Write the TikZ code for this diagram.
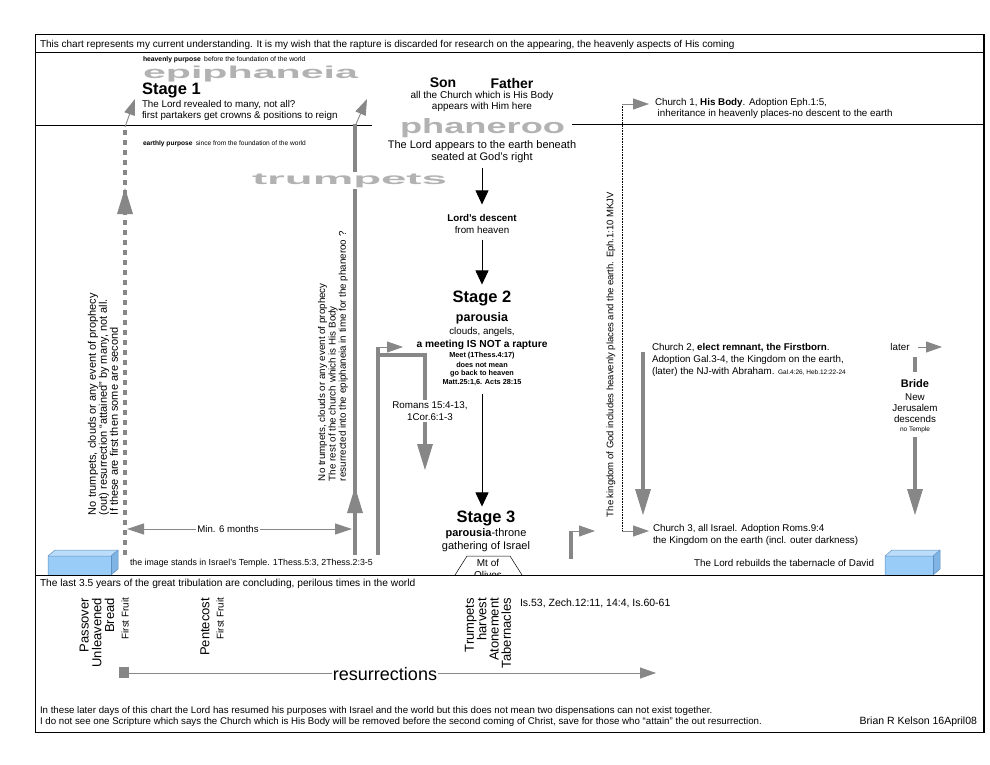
\documentclass[tikz,border=0pt]{standalone}
\usepackage{fontspec}
\setmainfont{Liberation Sans}
\usepackage{graphicx}
\usetikzlibrary{arrows.meta}
\definecolor{lg}{HTML}{878787}
\definecolor{bigt}{HTML}{B2B2B2}
\definecolor{boxf}{HTML}{99CCF7}
\definecolor{boxt}{HTML}{BBDDFB}
\definecolor{boxs}{HTML}{80B4E4}
\definecolor{boxe}{HTML}{5F90C2}
\newcommand{\fsz}[2]{\fontsize{#1}{#2}\selectfont}
\newcommand{\bigword}[3]{\textcolor{bigt}{\resizebox{#1pt}{#2pt}{\bfseries #3}}}
\begin{document}
\begin{tikzpicture}[x=1pt,y=-1pt,
  t/.style={inner sep=0pt, outer sep=0pt},
  n9/.style={t, font=\fsz{9.8}{11.5}},
  gl/.style={draw=lg, line width=4.5pt},
  blkarr/.style={draw=black, line width=0.7pt, -{Triangle[length=14pt,width=13pt]}},
  garr/.style={draw=lg, line width=0.9pt, -{Triangle[length=16pt,width=11pt]}},
  uptri/.pic={\fill[lg] (-8,13) -- (0,-13) -- (8,13) -- cycle;},
  downtri/.pic={\fill[lg] (-8,-13) -- (0,13) -- (8,-13) -- cycle;}
]
\useasboundingbox (0,0) rectangle (990,765);
\fill[white] (0,0) rectangle (990,765);

% frame
\draw[line width=1pt] (35,35) rectangle (984,732);
\draw[line width=2pt] (984,35) -- (984,733);
\draw[line width=1pt] (35,53) -- (984,53);
\draw[line width=0.8pt] (35,125) -- (372,125);
\draw[line width=0.8pt] (572,124) -- (984,124);

% header
\node[t,anchor=west,font=\fsz{10}{11}] (hdr) at (40,44.5) {This chart represents my current understanding. It is my wish that the rapture is discarded for research on the appearing, the heavenly aspects of His coming};

% ---------- thick grey lines ----------
% left dashed
\draw[lg, line width=4pt, dash pattern=on 5pt off 5pt] (125,555) -- (125,127);
\pic at (125,201) {uptri};
\draw[garr] (125,127) -- (135,99);
% middle solid
\draw[gl] (355,555) -- (355,124);
\pic at (355,500) {uptri};
\draw[garr] (356,124) -- (367,99);
% stage 2 flag and bracket
\draw[gl] (378,555) -- (378,347);
\draw[garr] (378,347) -- (403,347);
\draw[gl, line join=miter] (375.75,355) -- (425,355) -- (425,450);
\pic at (425,457) {downtri};
% stage 3 flag
\draw[gl] (571,559) -- (571,531);
\draw[garr] (571,531) -- (595,531);
% church 2 line
\draw[gl] (643,352) -- (643,495);
\pic at (643,502) {downtri};
% later / bride
\draw[garr] (918,347) -- (942,347);
\draw[gl] (915,357) -- (915,372);
\draw[gl] (915,437) -- (915,495);
\pic at (915,502) {downtri};

% dotted kingdom line
\draw[line width=0.6pt, densely dotted] (622,104) -- (622,531);
\coordinate (k1) at (622,104);
\coordinate (k3) at (622,531);
\draw[garr] (k1) -- (649,104);
\draw[garr] (k3) -- (649,531);

% min 6 months
\coordinate (m6a) at (127,529);
\coordinate (m6b) at (352,529);
\draw[lg, line width=0.8pt, {Triangle[length=17pt,width=11pt]}-{Triangle[length=17pt,width=11pt]}] (m6a) -- (m6b);
\node[t,fill=white,inner sep=1pt,font=\fsz{9.6}{11}] (m6) at (228,529) {Min. 6 months};

% ---------- top-left ----------
\node[t,anchor=west,font=\fsz{6.8}{8}] (hp) at (143,60) {\textbf{heavenly purpose}\enspace before the foundation of the world};
\node[t,anchor=base west] (epi) at (143,78.5) {\bigword{215}{12.5}{epiphaneia}};
\node[t,anchor=west,font=\bfseries\fsz{16.5}{18}] (s1) at (142,90.5) {Stage 1};
\node[n9,anchor=west] (s1a) at (142,104.5) {The Lord revealed to many, not all?};
\node[n9,anchor=west] (s1b) at (142,116) {first partakers get crowns \& positions to reign};
\node[t,anchor=west,font=\fsz{6.6}{8}] (ep) at (143,144) {\textbf{earthly purpose}\enspace since from the foundation of the world};
\node[t,anchor=base west,fill=white,inner sep=2pt] (trump) at (250,184) {\bigword{195}{10.5}{trumpets}};

% ---------- centre column ----------
\node[t,font=\bfseries\fsz{14}{16}] (son) at (443,83) {Son};
\node[t,font=\bfseries\fsz{14}{16}] (father) at (512,83) {Father};
\node[t,font=\fsz{10}{11}] (body1) at (482,96) {all the Church which is His Body};
\node[t,font=\fsz{10}{11}] (body2) at (482,107) {appears with Him here};
\node[t,anchor=base west] (phan) at (400,133) {\bigword{165}{15}{phaneroo}};
\node[t,font=\fsz{11}{12}] (app1) at (482,146) {The Lord appears to the earth beneath};
\node[t,font=\fsz{11}{12}] (seated) at (482,158) {seated at God's right};
\node[t,font=\bfseries\fsz{9.8}{11}] (desc1) at (482,218) {Lord's descent};
\node[t,font=\fsz{9.8}{11}] (desc2) at (482,230) {from heaven};
\node[t,font=\bfseries\fsz{16.5}{18}] (stage2) at (482,298) {Stage 2};
\node[t,font=\bfseries\fsz{12.5}{14}] (par) at (482,318) {parousia};
\node[n9] (clouds) at (482,332) {clouds, angels,};
\node[t,font=\bfseries\fsz{10.2}{11}] (meeting) at (482,345) {a meeting IS NOT a rapture};
\node[t,font=\bfseries\fsz{7.3}{8}] (meet1) at (482,355.5) {Meet (1Thess.4:17)};
\node[t,font=\bfseries\fsz{7.3}{8}] (meet2) at (482,364.5) {does not mean};
\node[t,font=\bfseries\fsz{7.3}{8}] (meet3) at (482,373.5) {go back to heaven};
\node[t,font=\bfseries\fsz{7.3}{8}] (meet4) at (482,382.5) {Matt.25:1,6. Acts 28:15};
\node[t,font=\bfseries\fsz{16.5}{18}] (stage3) at (486,518) {Stage 3};
\node[t,font=\fsz{11}{12}] (pt) at (486,534) {\textbf{parousia}-throne};
\node[t,font=\fsz{11}{12}] (gath) at (486,547) {gathering of Israel};
\draw[line width=0.5pt] (455,575) -- (467,556) -- (510,556) -- (522,575);
\node[t,font=\fsz{10}{11}] (mt) at (488,563) {Mt of};
\begin{scope}
\clip (440,560) rectangle (540,575);
\node[t,font=\fsz{10}{11}] (olives) at (488,574.5) {Olives};
\end{scope}

\draw[blkarr, shorten <=5pt, shorten >=10pt] (seated.south) -- (desc1.north);
\draw[blkarr, shorten <=6pt, shorten >=6pt] (desc2.south) -- (stage2.north);
\draw[blkarr, shorten <=8pt, shorten >=4pt] (meet4.south) -- (meet4.south |- stage3.north);

\node[t,fill=white,inner sep=1.5pt,align=center,font=\fsz{9.8}{12.5}] (rom) at (430,411) {Romans 15:4-13,\\1Cor.6:1-3};

% rotated texts
\node[t,rotate=90,anchor=west,align=left,font=\fsz{11}{11}] (lefttxt) at (103,515) {No trumpets, clouds or any event of prophecy\\(out) resurrection ``attained'' by many, not all.\\If these are first then some are second};
\node[t,rotate=90,anchor=west,align=left,font=\fsz{9.8}{10.4}] (midtxt) at (333,481) {No trumpets, clouds or any event of prophecy\\The rest of the church which is His Body\\resurrected into the epiphaneia in time for the phaneroo ?};
\node[t,rotate=90,anchor=west,font=\fsz{9.5}{10}] (kingdom) at (611,517) {The kingdom of God includes heavenly places and the earth. Eph.1:10 MKJV};

% ---------- right column ----------
\node[n9,anchor=west] (c1a) at (655,103) {Church 1, \textbf{His Body}. Adoption Eph.1:5,};
\node[n9,anchor=west] (c1b) at (655,114) {\ inheritance in heavenly places-no descent to the earth};
\node[n9,anchor=west] (c2a) at (652,348) {Church 2, \textbf{elect remnant, the Firstborn}.};
\node[n9,anchor=west] (c2b) at (652,360) {Adoption Gal.3-4, the Kingdom on the earth,};
\node[n9,anchor=west] (c2c) at (652,372) {(later) the NJ-with Abraham. {\fsz{6.5}{7}Gal.4:26, Heb.12:22-24}};
\node[n9,anchor=west] (c3a) at (653,529) {Church 3, all Israel. Adoption Roms.9:4};
\node[n9,anchor=west] (c3b) at (653,541) {the Kingdom on the earth (incl. outer darkness)};
\node[n9] (later) at (900,347) {later};
\node[t,font=\bfseries\fsz{11}{12}] (bride) at (915,384) {Bride};
\node[n9] (nj1) at (915,397) {New};
\node[n9] (nj2) at (915,408) {Jerusalem};
\node[n9] (nj3) at (915,419) {descends};
\node[t,font=\fsz{6.5}{7}] (nj4) at (915,429.5) {no Temple};

% ---------- ground level ----------
\node[t,anchor=west,font=\fsz{8.8}{11}] (image) at (130,563) {the image stands in Israel's Temple. 1Thess.5:3, 2Thess.2:3-5};
\node[n9,anchor=east] (tab) at (874,563) {The Lord rebuilds the tabernacle of David};
% blue boxes
\foreach \bx/\bw in {48/63, 885/48} {
  \fill[boxf] (\bx,556) rectangle (\bx+\bw,575);
  \fill[boxt] (\bx,556) -- (\bx+7,550) -- (\bx+\bw+7,550) -- (\bx+\bw,556) -- cycle;
  \fill[boxs] (\bx+\bw,556) -- (\bx+\bw+7,550) -- (\bx+\bw+7,569) -- (\bx+\bw,575) -- cycle;
  \draw[boxe, line width=0.5pt] (\bx,575) -- (\bx,556) -- (\bx+7,550) -- (\bx+\bw+7,550) -- (\bx+\bw+7,569) -- (\bx+\bw,575);
  \draw[boxe, line width=0.5pt] (\bx,556) -- (\bx+\bw,556) -- (\bx+\bw+7,550);
  \draw[boxe, line width=0.5pt] (\bx+\bw,556) -- (\bx+\bw,575);
}
\draw[line width=1pt] (35,575) -- (984,575);

% ---------- bottom section ----------
\node[t,anchor=west,font=\fsz{10.2}{11}] (lastyrs) at (40,584) {The last 3.5 years of the great tribulation are concluding, perilous times in the world};
\node[t,rotate=90,anchor=east,align=right,font=\fsz{13}{12.8}] (passover) at (97,598) {Passover\\Unleavened\\Bread};
\node[t,rotate=90,anchor=east,font=\fsz{9.8}{11}] (ff1) at (125,598) {First Fruit};
\node[t,rotate=90,anchor=east,font=\fsz{13}{14}] (pente) at (205,598) {Pentecost};
\node[t,rotate=90,anchor=east,font=\fsz{9.8}{11}] (ff2) at (220,598) {First Fruit};
\node[t,rotate=90,anchor=east,align=right,font=\fsz{13}{12.3}] (feasts) at (488,598) {Trumpets\\harvest\\Atonement\\Tabernacles};
\node[t,anchor=west,font=\fsz{10.5}{12}] (isa) at (520,603) {Is.53, Zech.12:11, 14:4, Is.60-61};

\fill[lg] (119,667) rectangle (129,678);
\coordinate (rstart) at (129,673);
\coordinate (rend) at (656,673);
\draw[lg, line width=0.8pt, -{Triangle[length=16pt,width=11pt]}] (rstart) -- (rend);
\node[t,fill=white,inner sep=1pt,font=\fsz{18}{20}] (res) at (385,674) {resurrections};

\node[t,anchor=west,font=\fsz{9.7}{11}] (foot1) at (40,711) {In these later days of this chart the Lord has resumed his purposes with Israel and the world but this does not mean two dispensations can not exist together.};
\node[t,anchor=west,font=\fsz{9.7}{11}] (foot2) at (40,722) {I do not see one Scripture which says the Church which is His Body will be removed before the second coming of Christ, save for those who ``attain'' the out resurrection.};
\node[t,anchor=east,font=\fsz{10.5}{11}] (author) at (977,722) {Brian R Kelson 16April08};
\end{tikzpicture}
\end{document}
